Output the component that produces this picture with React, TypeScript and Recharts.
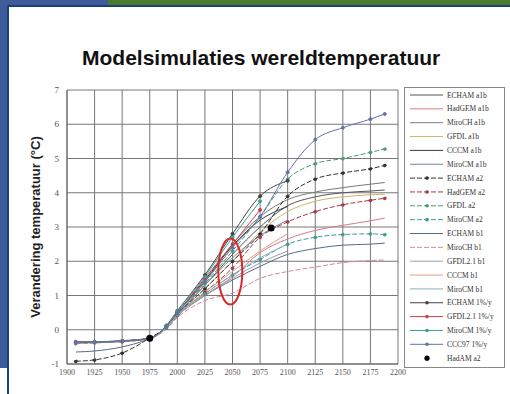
import { ComposedChart, Line, Scatter, XAxis, YAxis, CartesianGrid, ReferenceDot } from 'recharts';

// years sampled along the curves
const years = [1908, 1925, 1950, 1975, 1990, 2000, 2025, 2050, 2075, 2100, 2125, 2150, 2175, 2188];
const xTicks = [1900, 1925, 1950, 1975, 2000, 2025, 2050, 2075, 2100, 2125, 2150, 2175, 2200];
const yTicks = [-1, 0, 1, 2, 3, 4, 5, 6, 7];

// temperature change (°C) per model run
const echamA1b = [-0.36, -0.36, -0.33, -0.25, 0.08, 0.45, 1.3, 2.2, 3.0, 3.62, 3.88, 4.0, 4.05, 4.08];
const hadgemA1b = [-0.38, -0.37, -0.34, -0.25, 0.05, 0.4, 1.0, 1.55, 2.25, 2.65, 2.9, 3.05, 3.18, 3.26];
const mirochA1b = [-0.35, -0.35, -0.32, -0.24, 0.1, 0.5, 1.4, 2.5, 3.3, 3.8, 4.02, 4.15, 4.25, 4.3];
const gfdlA1b = [-0.4, -0.38, -0.34, -0.25, 0.06, 0.42, 1.2, 2.0, 2.85, 3.45, 3.75, 3.88, 3.94, 3.96];
const cccmA1b = [-0.36, -0.36, -0.33, -0.25, 0.1, 0.5, 1.45, 2.45, 3.2, 3.6, null, null, null, null];
const mirocmA1b = [-0.38, -0.37, -0.33, -0.25, 0.08, 0.46, 1.3, 2.1, 2.75, 3.2, null, null, null, null];
const echamA2 = [-0.92, -0.88, -0.68, -0.24, 0.08, 0.45, 1.2, 2.0, 2.8, 3.9, 4.4, 4.58, 4.7, 4.8];
const hadgemA2 = [-0.4, -0.38, -0.35, -0.25, 0.05, 0.42, 1.1, 1.8, 2.7, 3.15, 3.45, 3.65, 3.78, 3.84];
const gfdlA2 = [-0.36, -0.36, -0.33, -0.25, 0.1, 0.5, 1.35, 2.3, 3.3, 4.4, 4.85, 5.0, 5.18, 5.28];
const mirocmA2 = [-0.38, -0.37, -0.33, -0.25, 0.06, 0.44, 1.05, 1.6, 2.05, 2.5, 2.7, 2.78, 2.8, 2.78];
const echamB1 = [-0.65, -0.62, -0.5, -0.25, 0.04, 0.4, 1.0, 1.45, 1.85, 2.2, 2.37, 2.47, 2.5, 2.53];
const mirochB1 = [-0.4, -0.38, -0.35, -0.26, 0.02, 0.35, 0.85, 1.07, 1.5, 1.7, 1.83, 1.96, 2.02, 2.04];
const gfdl21B1 = [-0.38, -0.37, -0.34, -0.25, 0.05, 0.4, 1.0, 1.5, 1.95, 2.3, null, null, null, null];
const cccmB1 = [-0.36, -0.36, -0.33, -0.25, 0.06, 0.42, 1.1, 1.7, 2.3, 2.8, null, null, null, null];
const mirocmB1 = [-0.37, -0.37, -0.33, -0.25, 0.06, 0.43, 1.05, 1.6, 2.1, 2.5, null, null, null, null];
const echam1pct = [-0.36, -0.36, -0.33, -0.25, 0.12, 0.55, 1.6, 2.8, 3.9, 4.35, null, null, null, null];
const gfdl211pct = [-0.36, -0.36, -0.33, -0.25, 0.1, 0.5, 1.5, 2.5, 3.5, null, null, null, null, null];
const mirocm1pct = [-0.36, -0.36, -0.33, -0.25, 0.12, 0.55, 1.55, 2.7, 3.75, null, null, null, null, null];
const ccc971pct = [-0.35, -0.35, -0.32, -0.25, 0.1, 0.5, 1.4, 2.4, 3.3, 4.6, 5.55, 5.9, 6.15, 6.3];

// HadAM a2 reference points
const hadamYears = [1975, 2085];
const hadamTemps = [-0.25, 2.97];

const series = [
  { key: 'echamA1b', name: 'ECHAM a1b', values: echamA1b, color: '#555', dash: undefined, dots: false },
  { key: 'hadgemA1b', name: 'HadGEM a1b', values: hadgemA1b, color: '#d77a88', dash: undefined, dots: false },
  { key: 'mirochA1b', name: 'MiroCH a1b', values: mirochA1b, color: '#7a7a7a', dash: undefined, dots: false },
  { key: 'gfdlA1b', name: 'GFDL a1b', values: gfdlA1b, color: '#c9b56a', dash: undefined, dots: false },
  { key: 'cccmA1b', name: 'CCCM a1b', values: cccmA1b, color: '#3a3a3a', dash: undefined, dots: false },
  { key: 'mirocmA1b', name: 'MiroCM a1b', values: mirocmA1b, color: '#6a8aa0', dash: undefined, dots: false },
  { key: 'echamA2', name: 'ECHAM a2', values: echamA2, color: '#333', dash: '5 2', dots: true },
  { key: 'hadgemA2', name: 'HadGEM a2', values: hadgemA2, color: '#a8384a', dash: '5 2', dots: true },
  { key: 'gfdlA2', name: 'GFDL a2', values: gfdlA2, color: '#4f9a72', dash: '5 2', dots: true },
  { key: 'mirocmA2', name: 'MiroCM a2', values: mirocmA2, color: '#3f9a94', dash: '5 2', dots: true },
  { key: 'echamB1', name: 'ECHAM b1', values: echamB1, color: '#5a6a80', dash: undefined, dots: false },
  { key: 'mirochB1', name: 'MiroCH b1', values: mirochB1, color: '#d58a9c', dash: '5 2', dots: false },
  { key: 'gfdl21B1', name: 'GFDL2.1 b1', values: gfdl21B1, color: '#9aa0a8', dash: undefined, dots: false },
  { key: 'cccmB1', name: 'CCCM b1', values: cccmB1, color: '#e0a080', dash: undefined, dots: false },
  { key: 'mirocmB1', name: 'MiroCM b1', values: mirocmB1, color: '#8ab0c0', dash: undefined, dots: false },
  { key: 'echam1pct', name: 'ECHAM 1%/y', values: echam1pct, color: '#444', dash: undefined, dots: true },
  { key: 'gfdl211pct', name: 'GFDL2.1 1%/y', values: gfdl211pct, color: '#c8404c', dash: undefined, dots: true },
  { key: 'mirocm1pct', name: 'MiroCM 1%/y', values: mirocm1pct, color: '#3aa08c', dash: undefined, dots: true },
  { key: 'ccc971pct', name: 'CCC97 1%/y', values: ccc971pct, color: '#6272a8', dash: undefined, dots: true },
];

const rows = years.map((year, i) => {
  const r: Record<string, number | null> = { year };
  series.forEach((s) => { r[s.key] = s.values[i]; });
  return r;
});
const hadamPoints = hadamYears.map((year, i) => ({ year, t: hadamTemps[i] }));

function LegendBox() {
  const step = 13.85;
  return (
    <div style={{ position: 'absolute', left: 404, top: 87, width: 101, height: 281, border: '1px solid #888', background: '#fff', boxSizing: 'border-box' }}>
      <svg width={99} height={279}>
        {series.map((s, i) => {
          const y = 7 + i * step;
          return (
            <g key={s.key}>
              <line x1={5} x2={38} y1={y} y2={y} stroke={s.color} strokeDasharray={s.dash} />
              {s.dots && <circle cx={22} cy={y} r={1.8} fill={s.color} />}
              <text x={42} y={y} dy="0.35em" fontSize={7.5} fontFamily="Liberation Serif" fill="#333">{s.name}</text>
            </g>
          );
        })}
        <circle cx={22} cy={7 + 19 * step} r={2.6} fill="#000" />
        <text x={42} y={7 + 19 * step} dy="0.35em" fontSize={7.5} fontFamily="Liberation Serif" fill="#333">HadAM a2</text>
      </svg>
    </div>
  );
}

export default function App() {
  return (
    <div style={{ position: 'fixed', left: 0, top: 0, width: 510, height: 394, background: '#fff', overflow: 'hidden' }}>
      {/* slide frame */}
      <div style={{ position: 'absolute', left: 0, top: 0, width: 108, height: 5, background: '#3d5c99' }} />
      <div style={{ position: 'absolute', left: 108, top: 0, width: 402, height: 5, background: '#4a7a2c' }} />
      <div style={{ position: 'absolute', left: 0, top: 5, width: 510, height: 2, background: '#1c3f80' }} />
      <div style={{ position: 'absolute', left: 0, top: 0, width: 7, height: 368, background: '#3d5c99' }} />
      <div style={{ position: 'absolute', left: 7, top: 5, width: 2, height: 389, background: '#1c3f80' }} />

      <div style={{ position: 'absolute', left: 82, top: 47, fontFamily: 'Liberation Sans, Arial, sans-serif', fontWeight: 'bold', fontSize: 21, lineHeight: '21px', color: '#111', whiteSpace: 'nowrap' }}>
        Modelsimulaties wereldtemperatuur
      </div>

      <div style={{ position: 'absolute', left: 0, top: 0 }}>
        <ComposedChart width={510} height={394} data={rows} margin={{ top: 90, right: 112, bottom: 0, left: 0 }}>
          <CartesianGrid stroke="#777" strokeWidth={1} />
          <XAxis
            dataKey="year"
            type="number"
            domain={[1900, 2200]}
            ticks={xTicks}
            interval={0}
            tickLine={false}
            tickSize={3}
            axisLine={{ stroke: '#666' }}
            height={30}
            tick={{ fontSize: 8, fontFamily: 'Liberation Serif', fill: '#555' }}
          />
          <YAxis
            type="number"
            domain={[-1, 7]}
            ticks={yTicks}
            interval={0}
            tickLine={false}
            axisLine={{ stroke: '#666' }}
            width={67}
            tick={{ fontSize: 9, fontFamily: 'Liberation Serif', fill: '#555' }}
            label={{ value: 'Verandering temperatuur (°C)', angle: -90, position: 'center', dx: 2, style: { fontFamily: 'Liberation Sans', fontWeight: 'bold', fontSize: 13, fill: '#222' } }}
          />
          {series.map((s) => (
            <Line
              key={s.key}
              dataKey={s.key}
              name={s.name}
              type="monotone"
              stroke={s.color}
              strokeWidth={1}
              strokeDasharray={s.dash}
              dot={s.dots ? { r: 1.5, fill: s.color, stroke: s.color } : false}
              connectNulls={false}
              isAnimationActive={false}
            />
          ))}
          <Scatter
            data={hadamPoints}
            dataKey="t"
            name="HadAM a2"
            isAnimationActive={false}
            shape={(p: any) => <circle cx={p.cx} cy={p.cy} r={3.5} fill="#000" />}
          />
          <ReferenceDot
            x={2048}
            y={1.7}
            ifOverflow="visible"
            shape={(p: any) => <ellipse cx={p.cx} cy={p.cy} rx={12} ry={33} fill="none" stroke="#d42a2a" strokeWidth={2} />}
          />
        </ComposedChart>
      </div>
      <LegendBox />
    </div>
  );
}
